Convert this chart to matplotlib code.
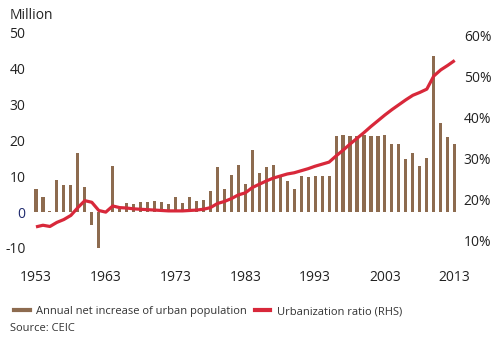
import numpy as np
import matplotlib.pyplot as plt
from matplotlib.lines import Line2D

plt.rcParams['font.family'] = ['Open Sans', 'DejaVu Sans']

# Annual net increase of urban population (million) and urbanization ratio (%)
years = list(range(1953, 2014))
net_increase = [
    6.6, 4.2, 0.4, 9.0, 7.6, 7.7, 16.5, 7.0, -3.7, -10.5,      # 1953-1962
    -0.1, 13.0, 1.0, 2.6, 2.4, 2.9, 2.8, 3.1, 2.9, 2.2,         # 1963-1972
    4.1, 2.5, 4.3, 3.1, 3.3, 5.8, 12.5, 6.4, 10.3, 13.1,        # 1973-1982
    7.9, 17.4, 10.8, 12.7, 13.1, 9.9, 8.8, 6.5, 10.1, 9.7,      # 1983-1992
    10.0, 10.0, 10.1, 21.3, 21.4, 21.3, 21.3, 21.4, 21.3, 21.3, # 1993-2002
    21.4, 18.9, 19.1, 14.9, 16.6, 12.8, 15.1, 43.5, 25.0, 20.9, # 2003-2012
    19.1,                                                       # 2013
]
urban_ratio = [
    13.2, 13.6, 13.3, 14.3, 15.0, 16.0, 17.9, 19.6, 19.2, 17.2,
    16.8, 18.3, 17.9, 17.8, 17.6, 17.5, 17.4, 17.3, 17.2, 17.1,
    17.1, 17.1, 17.2, 17.3, 17.5, 17.9, 18.9, 19.4, 20.1, 21.0,
    21.5, 22.8, 23.6, 24.4, 25.1, 25.6, 26.1, 26.4, 26.9, 27.4,
    28.0, 28.5, 29.0, 30.5, 31.9, 33.4, 34.8, 36.2, 37.7, 39.1,
    40.5, 41.8, 43.0, 44.2, 45.3, 46.0, 46.8, 50.0, 51.5, 52.6,
    53.8,
]
left_ticks = [-10, 0, 10, 20, 30, 40, 50]
right_ticks = [10, 20, 30, 40, 50, 60]
year_ticks = [1953, 1963, 1973, 1983, 1993, 2003, 2013]

bar_color = '#8d6b4f'
line_color = '#d8283a'
text_color = '#222222'

fig = plt.figure(figsize=(5, 3.4), dpi=100)
ax = fig.add_axes([0.051, 0.2706, 0.871, 0.6324])
ax.bar(years, net_increase, width=0.45, color=bar_color, zorder=2)
ax.set_ylim(-10, 50)
ax.set_xlim(1951.5, 2013.9)
ax.set_yticks(left_ticks)
ax.set_yticklabels([str(t) for t in left_ticks])
ax.set_xticks(year_ticks)
ax.tick_params(axis='both', length=0, labelsize=10, colors=text_color)
ax.tick_params(axis='y', pad=0)
ax.tick_params(axis='x', pad=16)
for lab in ax.get_yticklabels():
    if lab.get_text() == '0':
        lab.set_color('#1f2a6e')

ax2 = ax.twinx()
ax2.plot(years, urban_ratio, color=line_color, lw=2.3, zorder=3,
         solid_capstyle='butt')
ax2.set_ylim(8.05, 60.5)
ax2.set_yticks(right_ticks)
ax2.set_yticklabels([f'{t}%' for t in right_ticks])
ax2.tick_params(axis='y', length=0, labelsize=10, colors=text_color, pad=2)

for a in (ax, ax2):
    for s in a.spines.values():
        s.set_visible(False)

fig.text(0.02, 0.955, 'Million', fontsize=10, color=text_color, va='center')

handles = [
    Line2D([], [], color=bar_color, lw=3),
    Line2D([], [], color=line_color, lw=3),
]
fig.legend(handles, ['Annual net increase of urban population',
                     'Urbanization ratio (RHS)'],
           loc='center left', bbox_to_anchor=(0.008, 0.083), ncol=2,
           frameon=False, fontsize=8, handlelength=1.4, handletextpad=0.6,
           columnspacing=0.7, labelcolor='#333333')
fig.text(0.02, 0.035, 'Source: CEIC', fontsize=8, color='#333333',
         va='center')

fig.savefig('out.png', dpi=100)
